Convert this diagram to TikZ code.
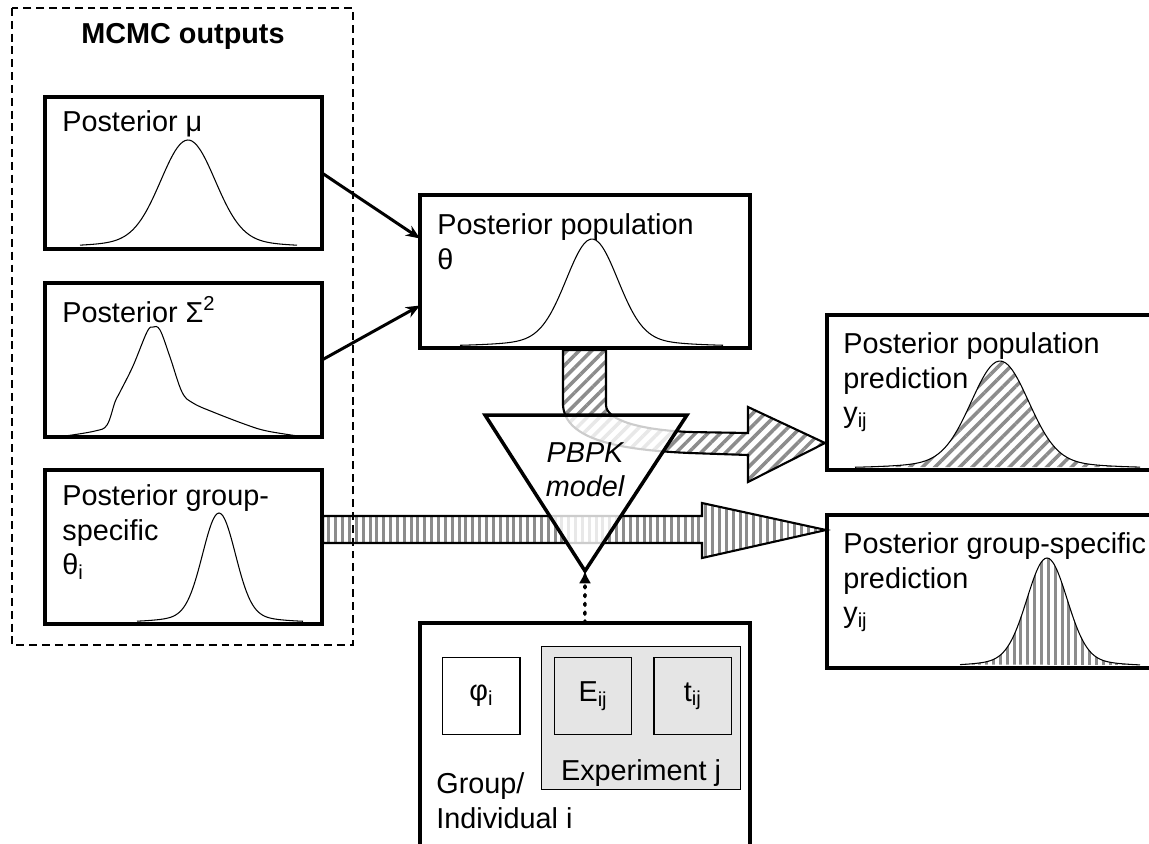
\documentclass[tikz,border=0pt]{standalone}
\usepackage{fontspec}
\setmainfont{Liberation Sans}
\usetikzlibrary{arrows.meta,positioning,calc,patterns.meta}
\newcommand{\figfont}{\fontsize{16.4pt}{19.8pt}\selectfont}
\tikzstyle{postbox} = [draw,line width=2pt,fill=white,inner sep=0pt,outer sep=0pt,anchor=north west]
\tikzstyle{boxtext} = [inner sep=0pt,anchor=north west,align=left,font=\figfont]
\tikzstyle{smallbox} = [draw,line width=0.7pt,minimum width=1.55cm,minimum height=1.54cm,inner sep=0pt,font=\figfont]
\tikzstyle{density} = [line width=0.6pt]
\tikzstyle{feed} = [line width=1.7pt,-{Stealth[length=8pt,width=6.5pt]}]
\tikzstyle{bigarrow} = [draw,line width=1.2pt,line join=miter,preaction={fill=white}]
\tikzstyle{diaghatch} = [pattern={Lines[angle=45,distance=5pt,line width=2pt]},pattern color=black!45]
\tikzstyle{verthatch} = [pattern={Lines[angle=90,distance=3.9pt,line width=1.7pt]},pattern color=black!45]
% bell shaped posterior: [style]{centre}{baseline}{height}{width}{from}{to}
\newcommand{\bell}[7][]{%
  \draw[density,#1] plot[domain=#6:#7,samples=90,smooth]
    (\x,{#3-#4*(0.93*exp(-((\x-#2)/#5)*((\x-#2)/#5))+0.07*exp(-((\x-#2)/(2.4*#5))*((\x-#2)/(2.4*#5))))});}

\begin{document}
\begin{tikzpicture}[x=0.02cm,y=-0.02cm]
\useasboundingbox (0,0) rectangle (1149,843);
\clip (0,0) rectangle (1149,843);

% posterior boxes
\node (mu) [postbox,minimum width=5.54cm,minimum height=3.04cm] at (45,97) {};
\node (sigma) [postbox,minimum width=5.54cm,minimum height=3.08cm] at (45,283) {};
\node (thetai) [postbox,minimum width=5.54cm,minimum height=3.08cm] at (45,470) {};
\node (pop) [postbox,minimum width=6.6cm,minimum height=3.06cm] at (420,195) {};
\node (poppred) [postbox,minimum width=7cm,minimum height=3.1cm] at (827,315) {};
\node (grppred) [postbox,minimum width=7cm,minimum height=3.06cm] at (827,515) {};
\node (indiv) [postbox,minimum width=6.6cm,minimum height=4.6cm] at (420,623) {};

% densities
\bell{188}{247}{107}{38}{80}{297}
\bell{219}{622}{109}{23}{137}{303}
\bell{592}{346}{107}{36}{460}{723}
\bell[diaghatch]{1000}{468}{107}{40}{855}{1140}
\bell[verthatch]{1047}{666}{108}{28}{960}{1140}
\draw[density] plot[smooth,tension=0.6] coordinates {(65,436) (95,431) (107,425) (115,402) (120,392) (133,366) (147,332) (153,327) (160,330) (170,357) (182,392) (193,403) (213,412) (247,425) (267,431) (298,436)};

% box texts
\node[boxtext] at (62,110) {Posterior μ};
\node[boxtext,anchor=base west] at (62,322) {Posterior Σ\textsuperscript{2}};
\node[boxtext] at (62,484) {Posterior group-\\specific\\θ\textsubscript{i}};
\node[boxtext] at (437,213) {Posterior population\\θ};
\node[boxtext] at (843,332) {Posterior population\\prediction\\y\textsubscript{ij}};
\node[boxtext] at (843,532) {Posterior group-specific\\prediction\\y\textsubscript{ij}};
\node[boxtext] at (436,772) {Group/\\Individual i};
\node[font=\figfont\bfseries,anchor=base] at (183,43) {MCMC outputs};

% wide arrows through the model
\coordinate (poptip) at (825,443);
\coordinate (grptip) at (826,530);
\draw[bigarrow,diaghatch] (563,350) -- (563,405) .. controls (565,440) and (620,450) .. (690,453)
  -- (748,455) -- (748,482) -- (poptip) -- (748,407) -- (748,433) -- (690,432)
  .. controls (640,430) and (606,420) .. (606,405) -- (606,350) -- cycle;
\draw[bigarrow,verthatch] (323,516) -- (702,516) -- (702,503) -- (grptip) -- (702,558)
  -- (702,543) -- (323,543) -- cycle;

% PBPK model
\coordinate (tri-l) at (485,415);
\coordinate (tri-r) at (687,415);
\coordinate (tri-b) at (585,571);
\draw[line width=2pt,fill=white,fill opacity=0.8] (tri-l) -- (tri-r) -- (tri-b) -- cycle;
\node (pbpk) [font=\figfont\itshape,align=center,anchor=north,inner sep=0pt] at (585,442) {PBPK\\model};

\draw[line width=1pt,dash pattern=on 4.5pt off 2.8pt] (12,8) rectangle (353,645);

\draw[feed] (mu.east) -- ([yshift=0.66cm]pop.west);
\draw[feed] (sigma.east) -- ([yshift=-0.68cm]pop.west);

% group / individual inputs
\node (phi) [smallbox,anchor=north west] at (442,657) {φ\textsubscript{i}};
\node (expj) [draw,line width=0.7pt,fill=black!10,anchor=north west,minimum width=3.98cm,minimum height=2.86cm] at (541,646) {};
\node (E) [smallbox,fill=black!10,right=0.66cm of phi] {E\textsubscript{ij}};
\node (t) [smallbox,fill=black!10,right=0.42cm of E] {t\textsubscript{ij}};
\node[font=\figfont,anchor=base] at ([yshift=0.2cm]expj.south) {Experiment j};

\draw[line width=2pt,dash pattern=on 1.2pt off 3.8pt,line cap=round,-{Latex[length=7pt,width=7pt]}] (indiv.north) -- (tri-b);
\end{tikzpicture}
\end{document}
